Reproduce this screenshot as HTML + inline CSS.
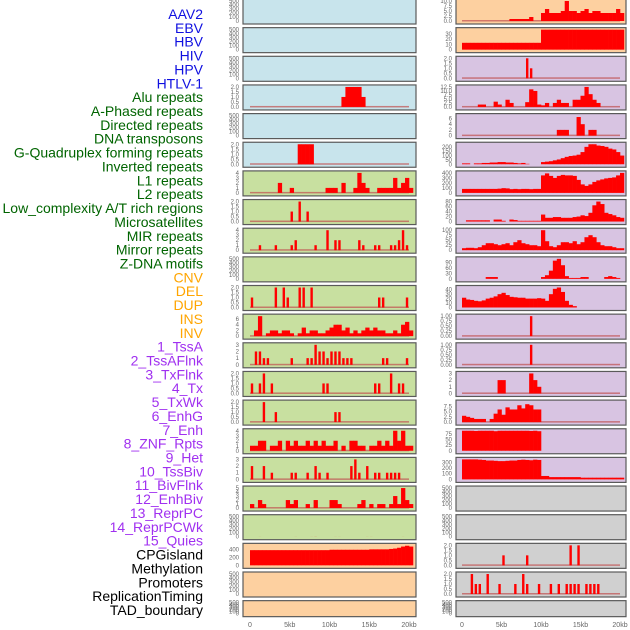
<!DOCTYPE html>
<html><head><meta charset="utf-8"><style>
html,body{margin:0;padding:0;background:#fff;}
svg{display:block;font-family:"Liberation Sans",sans-serif;}
</style></head><body>
<svg id="chart" width="630" height="630" viewBox="0 0 630 630"></svg>
<script>
const labels=["AAV2","EBV","HBV","HIV","HPV","HTLV-1","Alu repeats","A-Phased repeats","Directed repeats","DNA transposons","G-Quadruplex forming repeats","Inverted repeats","L1 repeats","L2 repeats","Low_complexity A/T rich regions","Microsatellites","MIR repeats","Mirror repeats","Z-DNA motifs","CNV","DEL","DUP","INS","INV","1_TssA","2_TssAFlnk","3_TxFlnk","4_Tx","5_TxWk","6_EnhG","7_Enh","8_ZNF_Rpts","9_Het","10_TssBiv","11_BivFlnk","12_EnhBiv","13_ReprPC","14_ReprPCWk","15_Quies","CPGisland","Methylation","Promoters","ReplicationTiming","TAD_boundary"];
const labelGroups=[6,13,5,15,5];
const groupColors=["#1010e0","#006400","#ffa500","#a030f0","#000000"];
const xTicks=[0,5,10,15,20];
const xTickLabels=["0","5kb","10kb","15kb","20kb"];
// sparse series: [binIndex, value], bin = 0.5kb
const L0=[],L1=[],L2=[],L4=[],L9=[],L20=[],L21=[];
const L3=[[23,1],[24,2],[25,2],[26,2],[27,2],[28,1]];
const L5=[[12,2],[13,2],[14,2],[15,2]];
const L6=[[7,2],[10,1],[19,1],[20,1],[21,1],[23,2],[26,1],[27,4],[28,2],[29,1],[32,1],[33,1],[34,1],[35,1],[36,3],[37,1],[38,2],[39,3],[40,1]];
const L7=[[10,1],[12,2],[14,1]];
const L8=[[2,1],[6,1],[10,1],[11,2],[16,1],[19,4],[21,2],[22,2],[27,2],[28,1],[31,1],[32,1],[35,1],[36,1],[37,2],[38,4],[39,1]];
const L10=[[0,1],[6,2],[8,2],[9,1],[12,2],[13,2],[15,2],[32,1],[33,1],[39,1]];
const L11=[0,2,7,0,1,2,2,1,2,2,1,0,1,3,1,2,2,1,1,2,3,4,4,2,3,1,2,1,2,3,2,3,2,2,1,1,2,1,4,5,2];
const L12=[[1,2],[2,2],[3,1],[4,1],[10,1],[14,1],[15,1],[16,3],[17,2],[18,2],[19,1],[20,2],[21,2],[22,2],[23,1],[24,1],[25,1],[33,1],[34,1],[39,1]];
const L13=[[0,1],[2,1],[3,2],[5,1],[18,1],[19,1],[31,1],[32,1],[35,2],[37,1],[38,1]];
const L14=[[3,2],[6,1],[21,1],[22,1]];
const L15=[1,1,2,2,0,1,1,2,0,2,1,2,1,1,2,1,2,1,2,1,1,2,0,1,0,2,2,1,1,0,1,1,2,1,2,1,4,2,4,1,1];
const L16=[[0,2],[3,2],[5,1],[10,1],[11,1],[14,1],[16,2],[17,1],[19,1],[25,2],[26,3],[27,1],[29,2],[31,1],[32,1],[34,1],[35,1],[36,1],[37,1]];
const L17=[1,0,2,1,0,0,0,0,0,2,1,2,0,0,1,0,2,0,0,0,2,2,1,0,0,0,0,1,2,0,1,0,1,1,0,1,3,1,5,2,1];
const L18=[[2,1],[11,1],[15,1],[16,2],[21,1],[22,1],[29,1],[30,1],[38,1]];
const L19=[380,380,380,380,380,380,380,380,380,380,380,380,380,380,380,380,380,380,380,380,390,390,390,390,390,390,390,390,390,390,400,400,400,400,400,410,420,440,470,490,470];
const R0=[0,0,0,0,0,0,0,0,0,0,0,0,1,1,1,1,1,2,0,0,4,6,4,4,4,5,10,5,5,4,5,6,4,5,5,4,4,4,4,6,4];
const R1=[13,13,13,13,13,13,13,13,13,13,13,13,13,13,13,13,13,13,13,13,38,38,38,38,38,38,38,38,38,38,38,38,38,38,38,38,38,38,38,38,38];
const R2=[[16,2],[17,1]];
const R3=[[4,1.5],[5,1.5],[8,3.3],[9,1.5],[11,4.5],[12,2.5],[16,3],[17,11],[18,10],[19,1.5],[20,1],[21,2.5],[23,2.5],[24,4.5],[25,2.5],[26,2.5],[28,4.5],[29,4.5],[30,7],[31,12.5],[32,8],[33,4.5],[34,2.5]];
const R4=[[24,2],[25,2],[26,2],[29,6.5],[30,4],[32,2],[33,2]];
const R5=[10,10,0,10,10,15,15,20,20,25,25,20,20,15,10,15,5,0,0,0,25,30,35,45,55,70,85,95,100,110,140,200,230,230,215,210,200,180,170,140,100];
const R6=[80,80,80,80,80,80,80,80,80,85,95,90,75,80,75,80,80,75,80,80,350,390,340,300,340,360,350,350,340,260,170,140,170,220,250,270,290,300,310,350,400];
const R7=[0,5,5,5,5,5,5,0,8,8,3,0,8,6,3,3,3,3,3,3,28,15,15,18,18,15,15,15,18,20,25,22,35,65,80,70,35,30,25,18,15];
const R8=[10,12,12,10,15,25,35,35,30,25,30,35,25,40,50,35,30,25,25,20,100,45,20,15,25,40,40,35,45,30,40,65,75,65,40,25,20,20,15,10,10];
const R9=[0,0,0,0,0,0,10,10,10,0,0,0,0,0,0,0,0,0,0,0,10,20,45,100,110,75,15,5,5,5,10,10,0,0,0,0,10,15,10,5,0];
const R10=[22,18,17,15,14,16,20,22,25,30,33,28,24,23,22,22,20,20,20,21,20,15,30,42,45,35,15,6,3,0,0,0,0,0,0,0,0,0,0,0,0];
const R11=[[17,1]];
const R12=[[17,1]];
const R13=[[9,2],[10,2],[17,3],[18,2],[19,1]];
const R14=[3,2.5,2,1.5,1.5,1.5,0,1.5,4,6,3.5,7,6,6,8,6.5,8.5,8,6,6,0,0,0,0,0,0,0,0,0,0,0,0,0,0,0,0,0,0,0,0,0];
const R15=[90,90,90,89,90,90,90,90,88,90,90,91,90,92,90,90,90,89,90,88,0,0,0,0,0,0,0,0,0,0,0,0,0,0,0,0,0,0,0,0,0];
const R16=[350,350,350,350,345,340,330,330,325,320,320,325,330,330,340,345,340,335,345,340,60,60,40,40,40,40,40,40,40,40,30,30,30,30,30,30,30,30,30,30,30];
const R17=[],R18=[],R21=[];
const R19=[[10,1],[16,1],[27,2],[29,2]];
const R20=[[2,2],[3,1],[4,1],[6,2],[9,1],[13,1],[15,2],[16,1],[19,1],[22,1],[24,1],[26,1],[27,1],[28,1],[29,1],[31,1],[32,1],[33,1],[34,1]];
const leftSeries=[L0,L1,L2,L3,L4,L5,L6,L7,L8,L9,L10,L11,L12,L13,L14,L15,L16,L17,L18,L19,L20,L21];
const rightSeries=[R0,R1,R2,R3,R4,R5,R6,R7,R8,R9,R10,R11,R12,R13,R14,R15,R16,R17,R18,R19,R20,R21];
const T500=[0,100,200,300,400,500],T2=[0,0.5,1,1.5,2];
const leftTicks=[T500,T500,T500,T2,T500,T2,[0,1,2,3,4],T2,[0,1,2,3,4],T500,T2,[0,2,4,6],[0,1,2,3],T2,T2,[0,1,2,3,4],[0,1,2,3],[0,1,2,3,4,5],T500,[0,200,400],T500,T500];
const leftMax=[500,500,500,2,500,2,4,2,4,500,2,7,3,2,2,4,3,5,500,500,500,500];
const rightTicks=[[0,2.5,5,7.5,10],[0,10,20,30],T2,[0,2.5,5,7.5,10,12.5],[0,2,4,6],[0,50,100,150,200],[0,100,200,300,400],[0,20,40,60,80],[0,25,50,75,100],[0,30,60,90],[0,10,20,30,40],[0,0.25,0.5,0.75,1],[0,0.25,0.5,0.75,1],[0,1,2,3],[0,2.5,5,7.5],[0,25,50,75],[0,100,200,300],T500,T500,T2,T2,T500];
const rightMax=[10,38,2,12.5,7,230,400,80,100,110,45,1,1,3,9.5,90,350,500,500,2,2,500];
const bgLeft=["#c8e4ec","#c8e4ec","#c8e4ec","#c8e4ec","#c8e4ec","#c8e4ec","#c8e0a0","#c8e0a0","#c8e0a0","#c8e0a0","#c8e0a0","#c8e0a0","#c8e0a0","#c8e0a0","#c8e0a0","#c8e0a0","#c8e0a0","#c8e0a0","#c8e0a0","#fdd0a0","#fdd0a0","#fdd0a0"];
const bgRight=["#fdd0a0","#fdd0a0","#d8c4e2","#d8c4e2","#d8c4e2","#d8c4e2","#d8c4e2","#d8c4e2","#d8c4e2","#d8c4e2","#d8c4e2","#d8c4e2","#d8c4e2","#d8c4e2","#d8c4e2","#d8c4e2","#d8c4e2","#d0d0d0","#d0d0d0","#d0d0d0","#d0d0d0","#d0d0d0"];
const narrowLeft=[7,8,10,12,13,14,16,18];
const narrowRight=[2,11,12,19,20];

const NS="http://www.w3.org/2000/svg";
const svg=document.getElementById('chart');
function mk(t,a,p){const e=document.createElementNS(NS,t);for(const k in a)e.setAttribute(k,a[k]);(p||svg).appendChild(e);return e;}
function dense(s){if(s.length&&Array.isArray(s[0])){const d=new Array(41).fill(0);s.forEach(([i,v])=>d[i]=v);return d;}return s.length?s:new Array(41).fill(0);}
function decs(ticks){let m=0;ticks.forEach(t=>{const s=String(t);if(s.includes('.'))m=Math.max(m,s.split('.')[1].length);});return m;}

let li=0;
labelGroups.forEach((n,g)=>{for(let k=0;k<n;k++){const t=mk('text',{x:203,y:14+li*13.86+5,'text-anchor':'end','font-size':14,fill:groupColors[g]});t.textContent=labels[li];


li++;}});

function panel(col,i,series,ymax,ticks,bg,narrow){
  const px=col?456:243,pw=col?170:173;
  const top=-1+i*28.65,h=(i===21)?16:25;
  const x0=col?462:250,kbw=col?7.9:7.95;
  const xs=kb=>x0+kb*kbw;
  const ybot=top+h-3,ytop=top+2;
  const ys=v=>ybot-(v/ymax)*(ybot-ytop);
  const g=mk('g',{});
  
  
  mk('rect',{x:px,y:top,width:pw,height:h,fill:bg,stroke:'#5a5a5a','stroke-width':1.2},g);
  const d=dense(series);
  const hasData=d.some(v=>v>0);
  if(hasData&&ymax<=20) mk('rect',{x:xs(0),y:ybot-1,width:xs(20)-xs(0),height:1.5,fill:'#c05050',opacity:0.7},g);
  const bw=narrow?2.4:kbw*0.5+0.3;
  d.forEach((v,b)=>{if(v<=0)return;
    const r=mk('rect',{x:xs(b*0.5)+(narrow?0.8:0),y:Math.max(ys(v),ytop),width:bw,height:ybot-Math.max(ys(v),ytop),fill:'#ff0000'},g);
    
    
  });
  const dp=decs(ticks);
  ticks.forEach(t=>{const tx=mk('text',{x:px-4,y:Math.max(ys(t),top)+2,'text-anchor':'end','font-size':6,fill:'#666'},g);tx.textContent=t.toFixed(dp);});
}
for(let i=0;i<22;i++){
  panel(0,i,leftSeries[i],leftMax[i],leftTicks[i],bgLeft[i],narrowLeft.includes(i));
  panel(1,i,rightSeries[i],rightMax[i],rightTicks[i],bgRight[i],narrowRight.includes(i));
}
[[250,7.95],[462,7.9]].forEach(([x0,k],c)=>{xTicks.forEach((t,j)=>{const tx=mk('text',{x:x0+t*k,y:627,'text-anchor':'middle','font-size':7,fill:'#666'});tx.textContent=xTickLabels[j];

});});
</script>
</body></html>
